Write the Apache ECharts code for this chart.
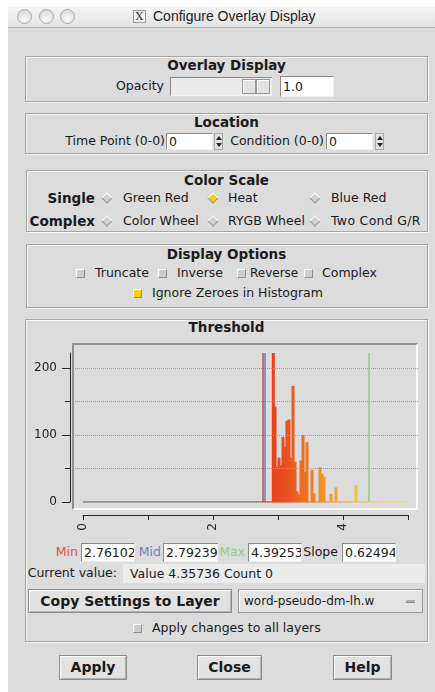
<!DOCTYPE html>
<html>
<head>
<meta charset="UTF-8">
<title>Configure Overlay Display</title>
<script src="https://cdn.jsdelivr.net/npm/echarts@6/dist/echarts.min.js"></script>
<style>
body{margin:0;width:435px;height:692px;background:#fff;font-family:'DejaVu Sans',sans-serif;font-size:12.5px;color:#1a1a1a;position:relative;overflow:hidden}
.a{position:absolute;white-space:nowrap}
.win{left:8px;top:7px;width:427px;height:685px;background:#dcdcdc}
.tbar{left:8px;top:7px;width:427px;height:20px;background:linear-gradient(#f4f4f4,#e3e3e3);border-bottom:1px solid #b4b4b4}
.dot{width:13px;height:13px;border-radius:50%;border:1px solid #a9a9a9;background:radial-gradient(circle at 50% 70%,#fafafa,#d2d2d2);top:9px}
.panel{border:1px solid #a6a6a6;box-shadow:inset 1px 1px 0 #f4f4f4,1px 1px 0 #f4f4f4;box-sizing:border-box}
.t{font-weight:bold;font-size:13.5px;line-height:16px;text-align:center;left:25px;width:403px}
.l{line-height:16px}
.b{font-weight:bold;font-size:13.5px}
.tf{background:#fff;border-top:1px solid #8a8a8a;border-left:1px solid #8a8a8a;border-bottom:1px solid #eee;border-right:1px solid #eee;padding-left:2px;box-sizing:border-box;overflow:hidden}
.btn{background:#e2e2e2;border:1px solid #8c8c8c;box-shadow:inset 1px 1px 0 #fff,inset -1px -1px 0 #b0b0b0;font-weight:bold;font-size:14px;text-align:center;box-sizing:border-box}
.dia{width:6px;height:6px;transform:rotate(45deg);background:#cfcfcf;border-top:1px solid #fff;border-left:1px solid #fff;border-bottom:1px solid #9a9a9a;border-right:1px solid #9a9a9a}
.ck{width:7px;height:7px;background:#cdcdcd;border-top:1px solid #fff;border-left:1px solid #fff;border-bottom:1px solid #8f8f8f;border-right:1px solid #8f8f8f}
.spin{width:9px;height:17px;background:#e2e2e2;border:1px solid #aaa;box-sizing:border-box}
.up{width:0;height:0;border-left:3px solid transparent;border-right:3px solid transparent;border-bottom:4px solid #222;left:1px;top:2px}
.dn{width:0;height:0;border-left:3px solid transparent;border-right:3px solid transparent;border-top:4px solid #222;left:1px;top:9px}
#chart{left:20px;top:335px;width:410px;height:205px}
</style>
</head>
<body>
<div class="a win"></div>
<div class="a tbar"></div>
<div class="a dot" style="left:17px"></div>
<div class="a dot" style="left:39px"></div>
<div class="a dot" style="left:60px"></div>
<div class="a" style="left:133px;top:10px;width:11px;height:11px;border:1px solid #9a9a9a;background:#f2f2f2;font-family:'DejaVu Serif',serif;font-size:11px;line-height:11px;text-align:center;color:#333">X</div>
<div class="a" style="left:153px;top:8px;font-family:'Liberation Sans',sans-serif;font-size:14px;line-height:16px;color:#222">Configure Overlay Display</div>

<!-- Overlay Display -->
<div class="a panel" style="left:25px;top:56px;width:403px;height:46px"></div>
<div class="a t" style="top:57px">Overlay Display</div>
<div class="a l" style="right:271px;top:78px">Opacity</div>
<div class="a" style="left:170px;top:77px;width:102px;height:19px;background:#ebebeb;border-top:1px solid #8a8a8a;border-left:1px solid #8a8a8a;border-bottom:1px solid #f4f4f4;box-sizing:border-box"></div>
<div class="a" style="left:242px;top:79px;width:14px;height:15px;background:#e2e2e2;border:1px solid #999;box-sizing:border-box;box-shadow:inset 1px 1px 0 #fff"></div>
<div class="a" style="left:256px;top:79px;width:14px;height:15px;background:#e2e2e2;border:1px solid #999;box-sizing:border-box;box-shadow:inset 1px 1px 0 #fff"></div>
<div class="a tf" style="left:280px;top:76px;width:54px;height:21px;line-height:19px">1.0</div>

<!-- Location -->
<div class="a panel" style="left:25px;top:113px;width:403px;height:41px"></div>
<div class="a t" style="top:114px">Location</div>
<div class="a l" style="right:270px;top:133px">Time Point (0-0)</div>
<div class="a tf" style="left:166px;top:133px;width:47px;height:17px;line-height:15px">0</div>
<div class="a spin" style="left:214px;top:133px"><div class="a up"></div><div class="a dn"></div></div>
<div class="a l" style="right:111px;top:133px">Condition (0-0)</div>
<div class="a tf" style="left:326px;top:133px;width:47px;height:17px;line-height:15px">0</div>
<div class="a spin" style="left:375px;top:133px"><div class="a up"></div><div class="a dn"></div></div>

<!-- Color Scale -->
<div class="a panel" style="left:26px;top:170px;width:402px;height:62px"></div>
<div class="a t" style="top:172px">Color Scale</div>
<div class="a l b" style="right:340px;top:190px">Single</div>
<div class="a dia" style="left:103px;top:194px"></div>
<div class="a l" style="left:123px;top:190px">Green Red</div>
<div class="a dia" style="left:209px;top:194px;background:#f6d11c"></div>
<div class="a l" style="left:228px;top:190px">Heat</div>
<div class="a dia" style="left:311px;top:194px"></div>
<div class="a l" style="left:331px;top:190px">Blue Red</div>
<div class="a l b" style="right:340px;top:213px">Complex</div>
<div class="a dia" style="left:103px;top:217px"></div>
<div class="a l" style="left:123px;top:213px">Color Wheel</div>
<div class="a dia" style="left:209px;top:217px"></div>
<div class="a l" style="left:228px;top:213px">RYGB Wheel</div>
<div class="a dia" style="left:311px;top:217px"></div>
<div class="a l" style="left:331px;top:213px;letter-spacing:0.3px">Two Cond G/R</div>

<!-- Display Options -->
<div class="a panel" style="left:26px;top:244px;width:402px;height:64px"></div>
<div class="a t" style="top:246px">Display Options</div>
<div class="a ck" style="left:76px;top:269px"></div>
<div class="a l" style="left:95px;top:265px">Truncate</div>
<div class="a ck" style="left:158px;top:269px"></div>
<div class="a l" style="left:177px;top:265px">Inverse</div>
<div class="a ck" style="left:237px;top:269px"></div>
<div class="a l" style="left:250px;top:265px;font-size:12px">Reverse</div>
<div class="a ck" style="left:304px;top:269px"></div>
<div class="a l" style="left:322px;top:265px">Complex</div>
<div class="a ck" style="left:133px;top:289px;background:#f4d20f"></div>
<div class="a l" style="left:152px;top:285px">Ignore Zeroes in Histogram</div>

<!-- Threshold -->
<div class="a panel" style="left:25px;top:319px;width:403px;height:323px"></div>
<div class="a t" style="top:319px">Threshold</div>
<div class="a" style="left:72px;top:343px;width:346px;height:167px;background:#dcdcdc;border-top:2px solid #8e8e8e;border-left:2px solid #8e8e8e;border-bottom:2px solid #fafafa;border-right:2px solid #fafafa;box-sizing:border-box"></div>
<div class="a" id="chart"></div>

<div class="a l" style="right:357px;top:544px;color:#d8553c">Min</div>
<div class="a tf" style="left:81px;top:543px;width:54px;height:19px;line-height:17px">2.76102</div>
<div class="a l" style="right:274px;top:544px;color:#6c7fc0">Mid</div>
<div class="a tf" style="left:163px;top:543px;width:55px;height:19px;line-height:17px">2.79239</div>
<div class="a l" style="right:190px;top:544px;color:#91cc87">Max</div>
<div class="a tf" style="left:248px;top:543px;width:54px;height:19px;line-height:17px">4.39253</div>
<div class="a l" style="right:97px;top:544px">Slope</div>
<div class="a tf" style="left:342px;top:543px;width:54px;height:19px;line-height:17px">0.62494</div>

<div class="a l" style="right:318px;top:565px">Current value:</div>
<div class="a" style="left:123px;top:564px;width:302px;height:19px;background:#ececec;line-height:19px;padding-left:7px;box-sizing:border-box">Value 4.35736 Count 0</div>

<div class="a btn" style="left:28px;top:589px;width:204px;height:24px;line-height:22px">Copy Settings to Layer</div>
<div class="a" style="left:238px;top:589px;width:185px;height:24px;background:#e4e4e4;border:1px solid #9a9a9a;box-shadow:inset 1px 1px 0 #fff;box-sizing:border-box;line-height:22px;padding-left:5px;font-size:12px">word-pseudo-dm-lh.w</div>
<div class="a" style="left:406px;top:600px;width:9px;height:2px;background:#b0b0b0;border-bottom:1px solid #888"></div>

<div class="a ck" style="left:133px;top:624px"></div>
<div class="a l" style="left:152px;top:620px">Apply changes to all layers</div>

<div class="a btn" style="left:59px;top:655px;width:68px;height:25px;line-height:23px">Apply</div>
<div class="a btn" style="left:197px;top:655px;width:65px;height:25px;line-height:23px">Close</div>
<div class="a btn" style="left:333px;top:655px;width:59px;height:25px;line-height:23px">Help</div>

<script type="text/javascript">
// histogram bins (value, count)
var binX = [2.928, 2.954, 2.985, 3.015, 3.046, 3.077, 3.108, 3.138, 3.169, 3.200, 3.231, 3.262, 3.292, 3.323,
            3.354, 3.385, 3.415, 3.446, 3.523, 3.554, 3.646, 3.677, 3.708, 3.815, 3.892, 4.200];
var counts = [240, 142, 52, 66, 55, 97, 82, 121, 123, 66, 173, 60, 16, 11,
              62, 100, 45, 89, 48, 13, 52, 42, 38, 12, 22, 25];
var minVal = 2.76102, midVal = 2.79239, maxVal = 4.39253;
var xMin = 0, xMax = 5;
var yMax = 222;
var yMajor = [0, 100, 200];
var yMinor = [50, 150];
var gridLines = [50, 100, 150, 200];
var xLabels = [0, 2, 4];
var heatColors = ['#e3361c', '#e9521f', '#f08a26', '#f4b934', '#f1d84f', '#f0e066'];

var dom = document.getElementById("chart");
var myChart = echarts.init(dom);
var pad = 10 / 65; // plot area reaches a little beyond 0..5

var option = {
    animation: false,
    grid: [
        {left: 53, top: 18, width: 345, height: 149},
        {left: 63, top: 179, width: 325, height: 1}
    ],
    xAxis: [
        {gridIndex: 0, type: 'value', min: xMin - pad, max: xMax + pad, show: false},
        {
            gridIndex: 1, type: 'value', min: xMin, max: xMax, interval: 1,
            axisLine: {onZero: false, lineStyle: {color: '#222'}},
            axisTick: {length: 5, lineStyle: {color: '#222'}},
            splitLine: {show: false},
            axisLabel: {
                rotate: 90, fontSize: 12, color: '#222', margin: 8, fontFamily: 'DejaVu Sans',
                formatter: function (v) { return xLabels.indexOf(v) >= 0 ? String(v) : ''; }
            }
        }
    ],
    yAxis: [
        {
            gridIndex: 0, type: 'value', position: 'left', min: 0, max: yMax, offset: 3,
            axisLine: {show: true, onZero: false, lineStyle: {color: '#222'}},
            axisTick: {show: true, length: 8, customValues: yMajor, lineStyle: {color: '#222'}},
            axisLabel: {fontSize: 12, color: '#222', margin: 13, fontFamily: 'DejaVu Sans', customValues: yMajor},
            splitLine: {show: false}
        },
        {
            gridIndex: 0, type: 'value', position: 'left', min: 0, max: yMax, offset: 3,
            axisLine: {show: false, onZero: false},
            axisTick: {show: true, length: 5, customValues: yMinor, lineStyle: {color: '#222'}},
            axisLabel: {show: false},
            splitLine: {show: false}
        },
        {gridIndex: 1, type: 'value', show: false}
    ],
    visualMap: {
        type: 'continuous', show: false, dimension: 0, min: 2.7, max: 5,
        seriesIndex: [1, 2], inRange: {color: heatColors}
    },
    series: [
        {
            type: 'line', xAxisIndex: 0, yAxisIndex: 0, symbol: 'none', z: 1,
            data: [[xMin, 0], [minVal, 0]],
            lineStyle: {color: '#787878', width: 1.5},
            markLine: {
                silent: true, symbol: 'none', label: {show: false},
                lineStyle: {type: 'dotted', color: '#9c9c9c', width: 1},
                data: gridLines.map(function (v) { return {yAxis: v}; })
            }
        },
        {
            type: 'line', xAxisIndex: 0, yAxisIndex: 0, symbol: 'none', z: 2,
            data: [[minVal, 0], [xMax, 0]],
            lineStyle: {width: 1.5}
        },
        {
            type: 'bar', xAxisIndex: 0, yAxisIndex: 0, barWidth: 3, z: 3,
            data: binX.map(function (x, i) { return [x, counts[i]]; })
        },
        {
            type: 'line', xAxisIndex: 0, yAxisIndex: 0, symbol: 'none', z: 4,
            data: [[minVal, 0]],
            markLine: {
                silent: true, symbol: 'none', label: {show: false},
                data: [
                    {xAxis: minVal, lineStyle: {color: '#d8492c', width: 1.5, type: 'solid'}},
                    {xAxis: midVal, lineStyle: {color: '#6a7ec2', width: 1.5, type: 'solid'}},
                    {xAxis: maxVal, lineStyle: {color: '#8fcc82', width: 1.5, type: 'solid'}}
                ]
            }
        }
    ]
};

if (option && typeof option === "object") {
    myChart.setOption(option, true);
}
</script>
</body>
</html>
